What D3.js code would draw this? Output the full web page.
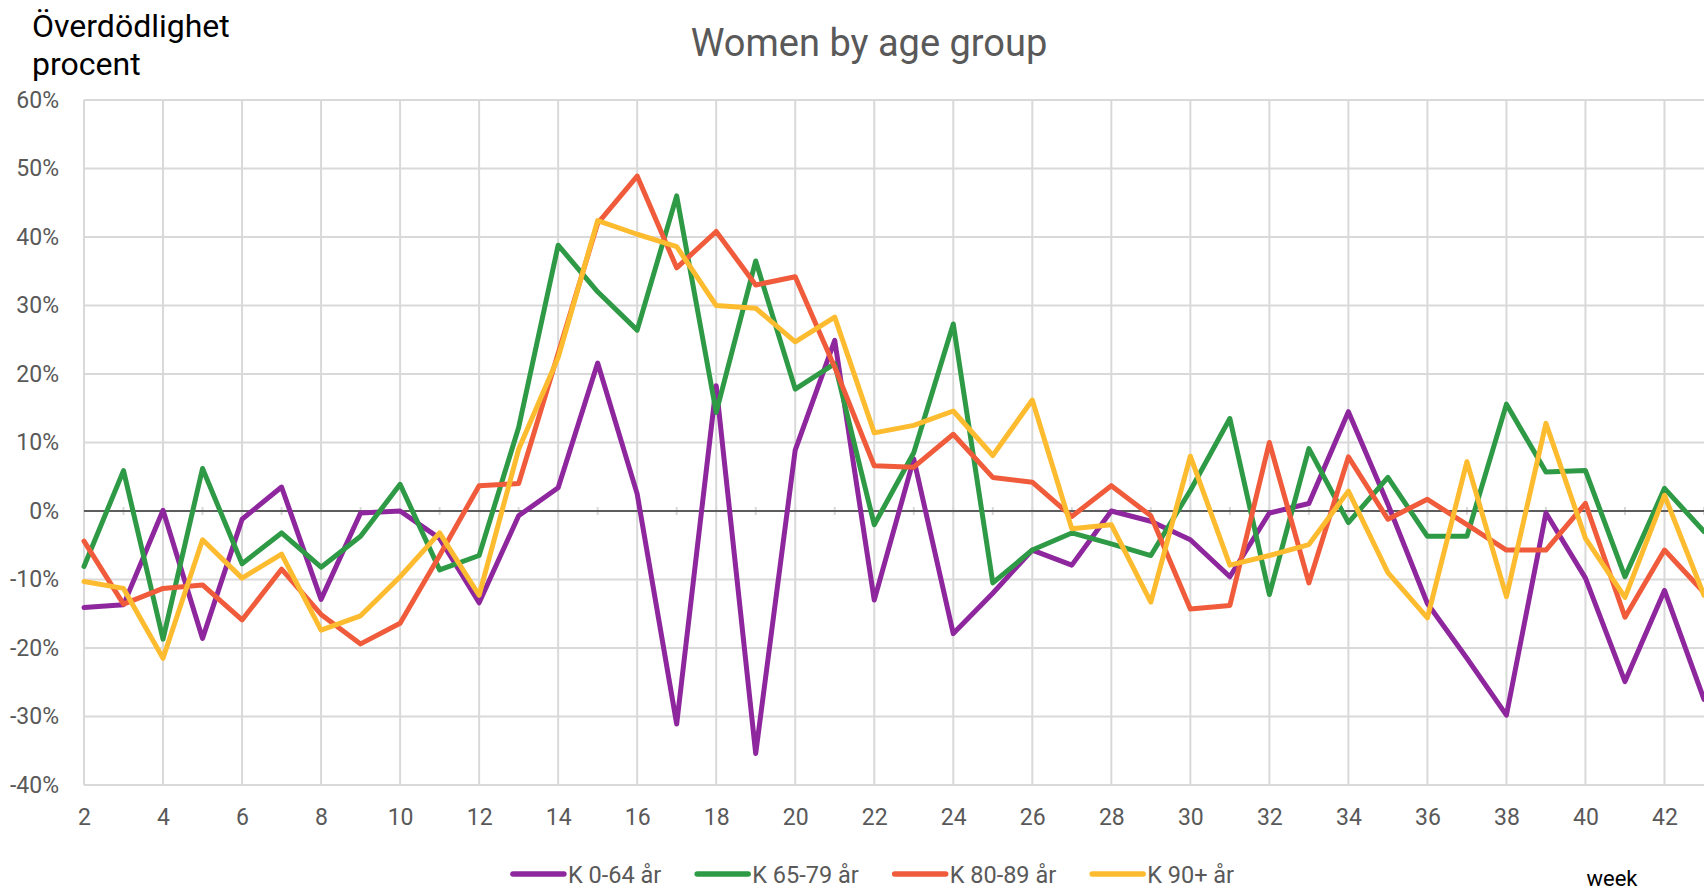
<!DOCTYPE html>
<html>
<head>
<meta charset="utf-8">
<script src="https://cdn.jsdelivr.net/npm/d3@7"></script>
<style>
  body { margin: 0; background: #fff; }
  svg { display: block; font-family: Roboto, "Noto Sans", sans-serif; }
</style>
</head>
<body>
<svg id="chart" width="1704" height="890"></svg>
<script>
//---- Data -------------------------------------------------------------------
var weeks = [2, 3, 4, 5, 6, 7, 8, 9, 10, 11, 12, 13, 14, 15, 16, 17, 18, 19, 20, 21, 22,
  23, 24, 25, 26, 27, 28, 29, 30, 31, 32, 33, 34, 35, 36, 37, 38, 39, 40, 41, 42, 43];
var weekTicks = [2, 4, 6, 8, 10, 12, 14, 16, 18, 20, 22, 24, 26, 28, 30, 32, 34, 36, 38, 40, 42];
var yTicks = [-40, -30, -20, -10, 0, 10, 20, 30, 40, 50, 60];

var k0_64 = [-14.1, -13.7, 0.1, -18.6, -1.2, 3.5, -12.9, -0.3, 0, -4.0, -13.4, -0.7, 3.4, 21.6,
  2.5, -31.1, 18.3, -35.4, 8.9, 24.9, -13.0, 7.6, -17.9, -12.0, -5.7, -7.9, 0, -1.5, -4.2, -9.6,
  -0.3, 1.1, 14.5, 1.0, -13.5, -21.5, -29.8, -0.3, -9.8, -24.9, -11.6, -27.5];
var k65_79 = [-8.1, 5.9, -18.7, 6.2, -7.7, -3.2, -8.2, -3.7, 3.9, -8.6, -6.5, 12.2, 38.8, 32.0,
  26.4, 46.0, 14.4, 36.5, 17.8, 21.5, -2.0, 8.5, 27.3, -10.5, -5.7, -3.2, -4.8, -6.5, 3.0, 13.5,
  -12.2, 9.1, -1.7, 4.9, -3.7, -3.7, 15.6, 5.7, 5.9, -9.6, 3.3, -3.0];
var k80_89 = [-4.4, -13.6, -11.3, -10.8, -15.9, -8.5, -15.1, -19.4, -16.4, -6.5, 3.7, 4.0, 23.0,
  42.0, 48.9, 35.5, 40.8, 33.0, 34.2, 21.0, 6.6, 6.4, 11.2, 4.9, 4.2, -0.8, 3.7, -0.7, -14.3,
  -13.8, 10.0, -10.5, 7.9, -1.2, 1.7, -2.0, -5.7, -5.7, 1.1, -15.5, -5.7, -11.9];
var k90 = [-10.3, -11.3, -21.5, -4.2, -9.8, -6.3, -17.4, -15.3, -9.6, -3.2, -12.3, 9.0, 22.4,
  42.4, 40.4, 38.6, 30.0, 29.6, 24.7, 28.3, 11.4, 12.5, 14.6, 8.1, 16.2, -2.6, -2.0, -13.3, 8.0,
  -7.9, -6.5, -4.9, 2.9, -9.0, -15.6, 7.2, -12.5, 12.8, -4.0, -12.6, 2.3, -12.3];

var seriesNames = ["K 0-64 år", "K 65-79 år", "K 80-89 år", "K 90+ år"];
var seriesColors = ["#8e279d", "#2f9a46", "#f05c3b", "#fdbc2f"];
var seriesValues = [k0_64, k65_79, k80_89, k90];

//---- Scales -----------------------------------------------------------------
var svg = d3.select("#chart");
var margin = { left: 84, right: 0, top: 100, bottom: 105 };
var width = 1704, height = 890;

var x = d3.scaleLinear().domain([2, 43]).range([margin.left, width - margin.right]);
var y = d3.scaleLinear().domain([-40, 60]).range([height - margin.bottom, margin.top]);

var grey = "#d9d9d9";
var textGrey = "#595959";

//---- Grid -------------------------------------------------------------------
svg.append("g")
  .selectAll("line")
  .data(yTicks)
  .enter()
  .append("line")
  .attr("x1", x(2)).attr("x2", x(43))
  .attr("y1", d => y(d)).attr("y2", d => y(d))
  .attr("stroke", grey)
  .attr("stroke-width", 2);

svg.append("g")
  .selectAll("line")
  .data(weekTicks)
  .enter()
  .append("line")
  .attr("x1", d => x(d)).attr("x2", d => x(d))
  .attr("y1", y(60)).attr("y2", y(-40))
  .attr("stroke", grey)
  .attr("stroke-width", 2);

// small tick marks on the zero line
svg.append("g")
  .selectAll("line")
  .data(weeks)
  .enter()
  .append("line")
  .attr("x1", d => x(d)).attr("x2", d => x(d))
  .attr("y1", y(0) - 4).attr("y2", y(0) + 4)
  .attr("stroke", grey)
  .attr("stroke-width", 2);

svg.append("line")
  .attr("x1", x(2)).attr("x2", x(43))
  .attr("y1", y(0)).attr("y2", y(0))
  .attr("stroke", "#333")
  .attr("stroke-width", 1.5);

//---- Axes labels ------------------------------------------------------------
var yAxis = d3.axisLeft(y).tickValues(yTicks).tickSize(0).tickPadding(0)
  .tickFormat(d => d + "%");
svg.append("g")
  .attr("transform", "translate(59,0)")
  .call(yAxis)
  .call(g => g.select(".domain").remove())
  .selectAll("text")
  .attr("fill", textGrey)
  .style("font-size", "23px")
  .style("font-family", "Roboto");

var xAxis = d3.axisBottom(x).tickValues(weekTicks).tickSize(0).tickPadding(0);
svg.append("g")
  .attr("transform", "translate(0," + (y(-40) + 24) + ")")
  .call(xAxis)
  .call(g => g.select(".domain").remove())
  .selectAll("text")
  .attr("fill", textGrey)
  .style("font-size", "23px")
  .style("font-family", "Roboto");

//---- Lines ------------------------------------------------------------------
var line = d3.line()
  .x((d, i) => x(weeks[i]))
  .y(d => y(d));

svg.append("g")
  .selectAll("path")
  .data(seriesValues)
  .enter()
  .append("path")
  .attr("d", line)
  .attr("fill", "none")
  .attr("stroke", (d, i) => seriesColors[i])
  .attr("stroke-width", 5)
  .attr("stroke-linejoin", "round")
  .attr("stroke-linecap", "round");

//---- Titles -----------------------------------------------------------------
svg.append("text")
  .attr("x", 869).attr("y", 56)
  .attr("text-anchor", "middle")
  .attr("fill", textGrey)
  .style("font-size", "38px")
  .text("Women by age group");

svg.append("text")
  .attr("x", 32).attr("y", 37)
  .attr("fill", "#000")
  .style("font-size", "32px")
  .text("Överdödlighet");
svg.append("text")
  .attr("x", 32).attr("y", 75)
  .attr("fill", "#000")
  .style("font-size", "32px")
  .text("procent");

svg.append("text")
  .attr("x", 1612).attr("y", 886)
  .attr("text-anchor", "middle")
  .attr("fill", "#000")
  .style("font-size", "22px")
  .text("week");

//---- Legend -----------------------------------------------------------------
var legend = svg.append("g");
var lx = 0;
seriesNames.forEach((name, i) => {
  var item = legend.append("g").attr("transform", "translate(" + lx + ",0)");
  item.append("line")
    .attr("x1", 3).attr("x2", 54)
    .attr("y1", 0).attr("y2", 0)
    .attr("stroke", seriesColors[i])
    .attr("stroke-width", 5.5)
    .attr("stroke-linecap", "round");
  var t = item.append("text")
    .attr("x", 58).attr("y", 8.5)
    .attr("fill", textGrey)
    .style("font-size", "23.5px")
    .text(name);
  lx += 58 + t.node().getComputedTextLength() + 33;
});
var legendWidth = lx - 33;
legend.attr("transform", "translate(" + (872 - legendWidth / 2) + ",874)");
</script>
</body>
</html>
